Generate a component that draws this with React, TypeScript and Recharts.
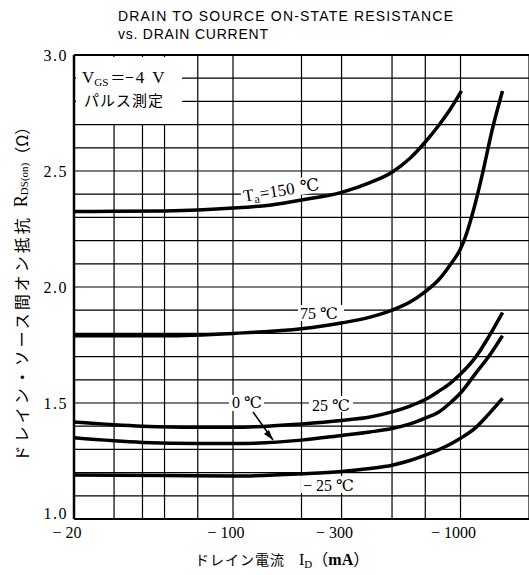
import { CartesianGrid, Line, LineChart, ReferenceLine, XAxis, YAxis } from 'recharts'

// ドレイン電流 (mA, 絶対値) と オン抵抗 (Ω)
const current150 = [20, 30, 50, 70, 100, 150, 200, 300, 400, 500, 600, 700, 800, 900, 1010]
const res150 = [2.325, 2.326, 2.328, 2.332, 2.34, 2.355, 2.375, 2.408, 2.45, 2.495, 2.555, 2.625, 2.695, 2.765, 2.845]

const current75 = [20, 50, 100, 200, 300, 400, 500, 600, 700, 800, 900, 1000, 1050, 1150, 1250, 1380, 1530]
const res75 = [1.79, 1.79, 1.8, 1.82, 1.845, 1.87, 1.9, 1.935, 1.98, 2.03, 2.095, 2.165, 2.215, 2.345, 2.49, 2.68, 2.845]

const current25 = [20, 40, 70, 100, 200, 300, 400, 500, 600, 700, 800, 900, 1000, 1170, 1330, 1530]
const res25 = [1.418, 1.4, 1.395, 1.395, 1.41, 1.425, 1.44, 1.462, 1.487, 1.515, 1.55, 1.585, 1.625, 1.7, 1.785, 1.89]

const current0 = [20, 40, 70, 100, 200, 300, 400, 500, 600, 700, 800, 900, 1000, 1170, 1330, 1530]
const res0 = [1.35, 1.33, 1.325, 1.325, 1.34, 1.36, 1.375, 1.39, 1.41, 1.435, 1.46, 1.5, 1.543, 1.63, 1.7, 1.79]

const currentM25 = [20, 50, 100, 200, 300, 400, 500, 600, 700, 800, 900, 1000, 1170, 1330, 1530]
const resM25 = [1.19, 1.187, 1.185, 1.195, 1.205, 1.218, 1.232, 1.252, 1.275, 1.298, 1.322, 1.348, 1.395, 1.452, 1.52]

const xTicks = [20, 100, 300, 1000]
const yTicks = [1.0, 1.5, 2.0, 2.5, 3.0]
const gridCurrents = [20, 30, 40, 50, 60, 70, 80, 90, 100, 200, 300, 400, 500, 600, 700, 800, 900, 1000, 2000]
const gridRes = [1.0, 1.1, 1.2, 1.3, 1.4, 1.5, 1.6, 1.7, 1.8, 1.9, 2.0, 2.1, 2.2, 2.3, 2.4, 2.5, 2.6, 2.7, 2.8, 2.9, 3.0]

const zip = (xs: number[], ys: number[]) => xs.map((x, i) => ({ id: x, r: ys[i] }))

const curves = [
  { key: '150', data: zip(current150, res150) },
  { key: '75', data: zip(current75, res75) },
  { key: '25', data: zip(current25, res25) },
  { key: '0', data: zip(current0, res0) },
  { key: '-25', data: zip(currentM25, resM25) },
]

const SERIF = '"Liberation Serif", "DejaVu Serif", serif'
const CJK = '"Noto Sans CJK JP", sans-serif'
const SANS = '"Liberation Sans", Arial, sans-serif'

const XTick = (props: any) => {
  const { x, y, payload } = props
  return (
    <text x={x - 7} y={y} dy="0.71em" textAnchor="middle" fontFamily={SERIF} fontSize={16} fill="#000">
      {'− ' + payload.value}
    </text>
  )
}

const YTick = (props: any) => {
  const { x, y, payload } = props
  // 一番下の 1.0 は −20 と重ならないよう少し上げる
  const shift = payload.value === 1 ? -5 : 1
  return (
    <text x={x} y={y + shift} dy="0.34em" textAnchor="end" fontFamily={SERIF} fontSize={16} letterSpacing={1.5} fill="#000">
      {Number(payload.value).toFixed(1)}
    </text>
  )
}

function Annotations() {
  return (
    <svg width={529} height={575} style={{ position: 'absolute', left: 0, top: 0, pointerEvents: 'none' }}>
      <text x={118} y={21} fontFamily={SANS} fontSize={14} textLength={335} fill="#000">
        DRAIN TO SOURCE ON-STATE RESISTANCE
      </text>
      <text x={118} y={39} fontFamily={SANS} fontSize={14} textLength={150} fill="#000">
        vs. DRAIN CURRENT
      </text>

      {/* 条件ボックス */}
      <rect x={76} y={57} width={106} height={67} fill="#fff" />
      <text x={82} y={83} fontFamily={SERIF} fontSize={17} fill="#000">
        V<tspan fontSize={11} dy={3}>GS</tspan>
        <tspan dy={-3} dx={2} fontFamily={CJK} fontSize={15}>＝</tspan>
        <tspan fontFamily={CJK} fontSize={15}>−</tspan>
        <tspan dx={2}>4</tspan>
        <tspan dx={8}>V</tspan>
      </text>
      <text x={84} y={106} fontFamily={CJK} fontSize={15} letterSpacing={1} fill="#000">
        パルス測定
      </text>

      {/* 曲線ラベル */}
      <g transform="rotate(-9 287 191)">
        <rect x={241} y={180} width={92} height={17} fill="#fff" />
        <text x={243} y={195} fontFamily={SERIF} fontSize={17} fill="#000">
          T<tspan fontSize={12} dy={3}>a</tspan>
          <tspan dy={-3} dx={1}>=150</tspan>
          <tspan dx={6}>℃</tspan>
        </text>
      </g>
      <rect x={298} y={305} width={46} height={16} fill="#fff" />
      <text x={300} y={319} fontFamily={SERIF} fontSize={16} fill="#000">75 ℃</text>

      <rect x={229} y={395} width={35} height={16} fill="#fff" />
      <text x={232} y={408} fontFamily={SERIF} fontSize={16} fill="#000">0 ℃</text>
      <rect x={309} y={396} width={44} height={16} fill="#fff" />
      <text x={312} y={411} fontFamily={SERIF} fontSize={16} fill="#000">25 ℃</text>
      <line x1={253} y1={412} x2={273} y2={440} stroke="#000" strokeWidth={1.5} />
      <path d="M273,440 L264,434 L269,430 Z" fill="#000" />

      <rect x={301} y={476} width={58} height={17} fill="#fff" />
      <text x={303} y={491} fontFamily={SERIF} fontSize={16} fill="#000">− 25 ℃</text>

      {/* 軸ラベル */}
      <text
        transform="rotate(-90)"
        x={-290}
        y={21}
        textAnchor="middle"
        dominantBaseline="central"
        fill="#000"
      >
        <tspan fontFamily={CJK} fontSize={16} letterSpacing={3}>ドレイン・ソース間オン抵抗</tspan>
        <tspan fontFamily={SERIF} fontSize={18} dx={8}>R</tspan>
        <tspan fontFamily={SERIF} fontSize={11} dy={3}>DS(on)</tspan>
        <tspan fontFamily={CJK} fontSize={16} dy={-3}>（Ω）</tspan>
      </text>
      <text x={195} y={565} fill="#000">
        <tspan fontFamily={CJK} fontSize={14} letterSpacing={1}>ドレイン電流</tspan>
        <tspan fontFamily={SERIF} fontSize={16} dx={14}>I</tspan>
        <tspan fontFamily={SERIF} fontSize={11} dy={3}>D</tspan>
        <tspan fontFamily={CJK} fontSize={16} dy={-3}>（</tspan>
        <tspan fontFamily={SERIF} fontSize={16} fontWeight="bold">mA</tspan>
        <tspan fontFamily={CJK} fontSize={16}>）</tspan>
      </text>
    </svg>
  )
}

export default function App() {
  return (
    <div style={{ position: 'absolute', left: 0, top: 0, width: 529, height: 575, background: '#fff' }}>
      <LineChart width={529} height={575} margin={{ top: 55, right: 0, bottom: 0, left: 14 }}>
        <CartesianGrid
          stroke="#000"
          strokeWidth={1.2}
          horizontalValues={gridRes}
          verticalValues={gridCurrents}
        />
        <XAxis
          dataKey="id"
          type="number"
          scale="log"
          domain={[20, 2000]}
          allowDataOverflow
          ticks={xTicks}
          tick={<XTick />}
          tickLine={false}
          tickSize={0}
          tickMargin={8}
          height={56}
          axisLine={{ stroke: '#000', strokeWidth: 2 }}
        />
        <YAxis
          type="number"
          domain={[1.0, 3.0]}
          ticks={yTicks}
          tick={<YTick />}
          tickLine={false}
          tickSize={0}
          tickMargin={6}
          width={60}
          axisLine={{ stroke: '#000', strokeWidth: 2.5 }}
        />
        <ReferenceLine y={3.0} stroke="#000" strokeWidth={2} />
        {curves.map((c) => (
          <Line
            key={c.key}
            data={c.data}
            dataKey="r"
            type="monotone"
            stroke="#000"
            strokeWidth={3.5}
            dot={false}
            isAnimationActive={false}
          />
        ))}
      </LineChart>
      <Annotations />
    </div>
  )
}
